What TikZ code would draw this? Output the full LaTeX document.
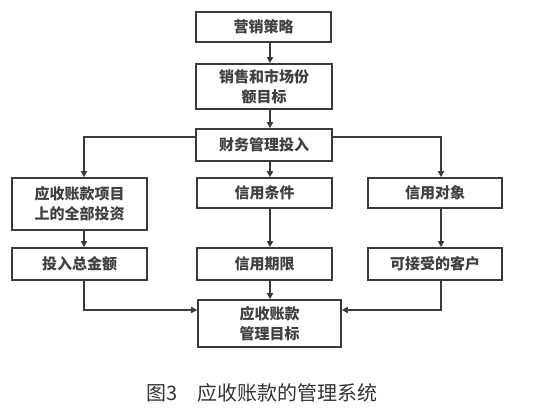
\documentclass[tikz,border=0pt]{standalone}
\usepackage{fontspec}
\newfontfamily\cjk{Noto Sans CJK SC}
\usetikzlibrary{arrows.meta,calc}
\definecolor{lc}{HTML}{3A3A3A}
\definecolor{tc}{HTML}{404040}
\tikzset{
  box/.style={draw=lc, line width=1.6pt, inner sep=0pt, align=center,
    font=\cjk\bfseries\fontsize{15}{20}\selectfont, text=tc},
  conn/.style={draw=lc, line width=1.4pt, -{Triangle[length=6pt,width=6pt]}},
}
\begin{document}
\begin{tikzpicture}[x=1pt,y=-1pt]
\useasboundingbox (0,0) rectangle (534,412);
\coordinate (L) at (84,0);
\coordinate (M) at (270,0);
\coordinate (R) at (441,0);
\node[box, minimum width=135pt, minimum height=30pt] (n1) at (263.5,27) {营销策略};
\node[box, minimum width=136pt, minimum height=45pt] (n2) at (264,86.5) {销售和市场份\\额目标};
\node[box, minimum width=136pt, minimum height=32pt] (n3) at (264,145) {财务管理投入};
\node[box, minimum width=135pt, minimum height=52pt] (a1) at (79.5,204) {应收账款项目\\上的全部投资};
\node[box, minimum width=135pt, minimum height=30pt] (b1) at (264.5,193) {信用条件};
\node[box, minimum width=134pt, minimum height=30pt] (c1) at (435,193) {信用对象};
\node[box, minimum width=135pt, minimum height=32pt] (a2) at (79.5,264) {投入总金额};
\node[box, minimum width=135pt, minimum height=32pt] (b2) at (264.5,264) {信用期限};
\node[box, minimum width=134pt, minimum height=32pt] (c2) at (435,264) {可接受的客户};
\node[box, minimum width=143pt, minimum height=47pt] (d) at (269.5,323.5) {应收账款\\管理目标};
\node[font=\cjk\fontsize{20}{24}\selectfont, text=black!80] (cap) at (262,393) {图3\quad 应收账款的管理系统};
\draw[conn] (n1.south -| M) -- (n2.north -| M);
\draw[conn] (n2.south -| M) -- (n3.north -| M);
\draw[conn] (n3.south -| M) -- (b1.north -| M);
\draw[conn] ([yshift=8pt]n3.west) -| (a1.north -| L);
\draw[conn] ([yshift=8pt]n3.east) -| (c1.north -| R);
\draw[conn] (a1.south -| L) -- (a2.north -| L);
\draw[conn] (b1.south -| M) -- (b2.north -| M);
\draw[conn] (c1.south -| R) -- (c2.north -| R);
\draw[conn] (b2.south -| M) -- (d.north -| M);
\draw[conn] (a2.south -| L) |- ([yshift=13.5pt]d.west);
\draw[conn] (c2.south -| R) |- ([yshift=13.5pt]d.east);
\end{tikzpicture}
\end{document}
